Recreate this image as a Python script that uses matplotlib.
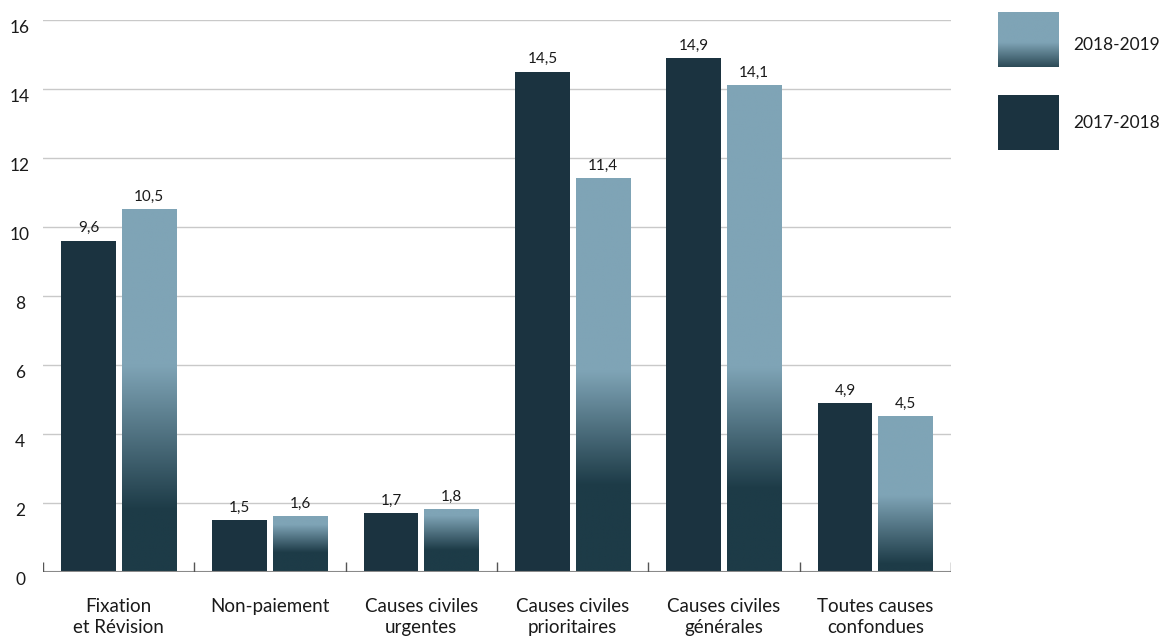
from matplotlib import pyplot as plt
import numpy as np

plt.rcParams['font.family'] = ['Lato', 'DejaVu Sans']

categories = ['Fixation\net Révision', 'Non-paiement', 'Causes civiles\nurgentes',
              'Causes civiles\nprioritaires', 'Causes civiles\ngénérales', 'Toutes causes\nconfondues']
values_2017 = [9.6, 1.5, 1.7, 14.5, 14.9, 4.9]
values_2018 = [10.5, 1.6, 1.8, 11.4, 14.1, 4.5]
series_labels = ['2018-2019', '2017-2018']
y_ticks = [0, 2, 4, 6, 8, 10, 12, 14, 16]

DARK = '#1b3340'
DARK2 = '#1d3b47'
LIGHT = '#7fa4b6'
# where the fade starts / ends on each light bar (fraction of its height)
fade = [(0.57, 0.17), (0.85, 0.35), (0.9, 0.35), (0.51, 0.22), (0.42, 0.17), (0.49, 0.05)]


def gradient(top, bottom, n=200, end=DARK2):
    f = np.linspace(0, 1, n)
    t = np.clip((f - bottom) / (top - bottom), 0, 1)
    c0 = np.array(plt.matplotlib.colors.to_rgb(end))
    c1 = np.array(plt.matplotlib.colors.to_rgb(LIGHT))
    return (c0[None, :] + t[:, None] * (c1 - c0)[None, :])[:, None, :]


def fmt(v):
    return ('%.1f' % v).replace('.', ',')


fig = plt.figure(figsize=(11.6, 6.42), dpi=100)
ax = fig.add_axes([43 / 1160, 1 - 572 / 642, 908 / 1160, 552 / 642])

x = np.arange(len(categories))
w = 0.36
b1 = ax.bar(x - 0.2, values_2017, w, color=DARK, zorder=3)
b2 = ax.bar(x + 0.2, values_2018, w, color=LIGHT, zorder=3)

# gradient on the 2018-2019 bars
for p, (hi, lo) in zip(b2.patches, fade):
    x0, y0 = p.get_x(), p.get_y()
    ax.imshow(gradient(hi, lo), extent=[x0, x0 + p.get_width(), y0, y0 + p.get_height()],
              origin='lower', aspect='auto', zorder=4, interpolation='bilinear')

for bars, vals in ((b1, values_2017), (b2, values_2018)):
    for p, v in zip(bars.patches, vals):
        ax.annotate(fmt(v), (p.get_x() + p.get_width() / 2, v), xytext=(0, 4),
                    textcoords='offset points', ha='center', va='bottom',
                    fontsize=11, color='#1a1a1a', zorder=5)

ax.set_xlim(-0.5, len(categories) - 0.5)
ax.set_ylim(0, 16)

# grid
for t in y_ticks[1:]:
    ax.axhline(t, color='#c9c9c9', lw=1, zorder=1)
ax.axhline(0, color='#8a8a8a', lw=1.5, zorder=6)
ax.vlines(np.arange(len(categories) + 1) - 0.5, 0, 0.3, color='#555555', lw=1, zorder=6)

for s in ax.spines.values():
    s.set_visible(False)

ax.set_yticks(y_ticks)
ax.set_yticklabels([str(t) for t in y_ticks], fontsize=12.5, color='#1a1a1a')
for lab in ax.get_yticklabels():
    lab.set_ha('center')
    lab.set_va('top')
ax.tick_params(axis='y', length=0, pad=16.5)

ax.set_xticks(x)
ax.set_xticklabels(categories, fontsize=13.5, color='#1a1a1a', linespacing=1.25)
ax.tick_params(axis='x', length=0, pad=19)

# legend
lax = fig.add_axes([998 / 1160, 1 - 67 / 642, 61 / 1160, 55 / 642])
lax.imshow(gradient(0.45, 0.0, end='#2c4a56'), origin='lower', aspect='auto',
           extent=[0, 1, 0, 1], interpolation='bilinear')
lax.axis('off')
dax = fig.add_axes([998 / 1160, 1 - 150 / 642, 61 / 1160, 55 / 642])
dax.add_patch(plt.Rectangle((0, 0), 1, 1, color=DARK))
dax.axis('off')
fig.text(1073 / 1160, 1 - 45 / 642, series_labels[0], fontsize=12.5, va='center', color='#1a1a1a')
fig.text(1073 / 1160, 1 - 123 / 642, series_labels[1], fontsize=12.5, va='center', color='#1a1a1a')

fig.savefig('out.png', dpi=100)
